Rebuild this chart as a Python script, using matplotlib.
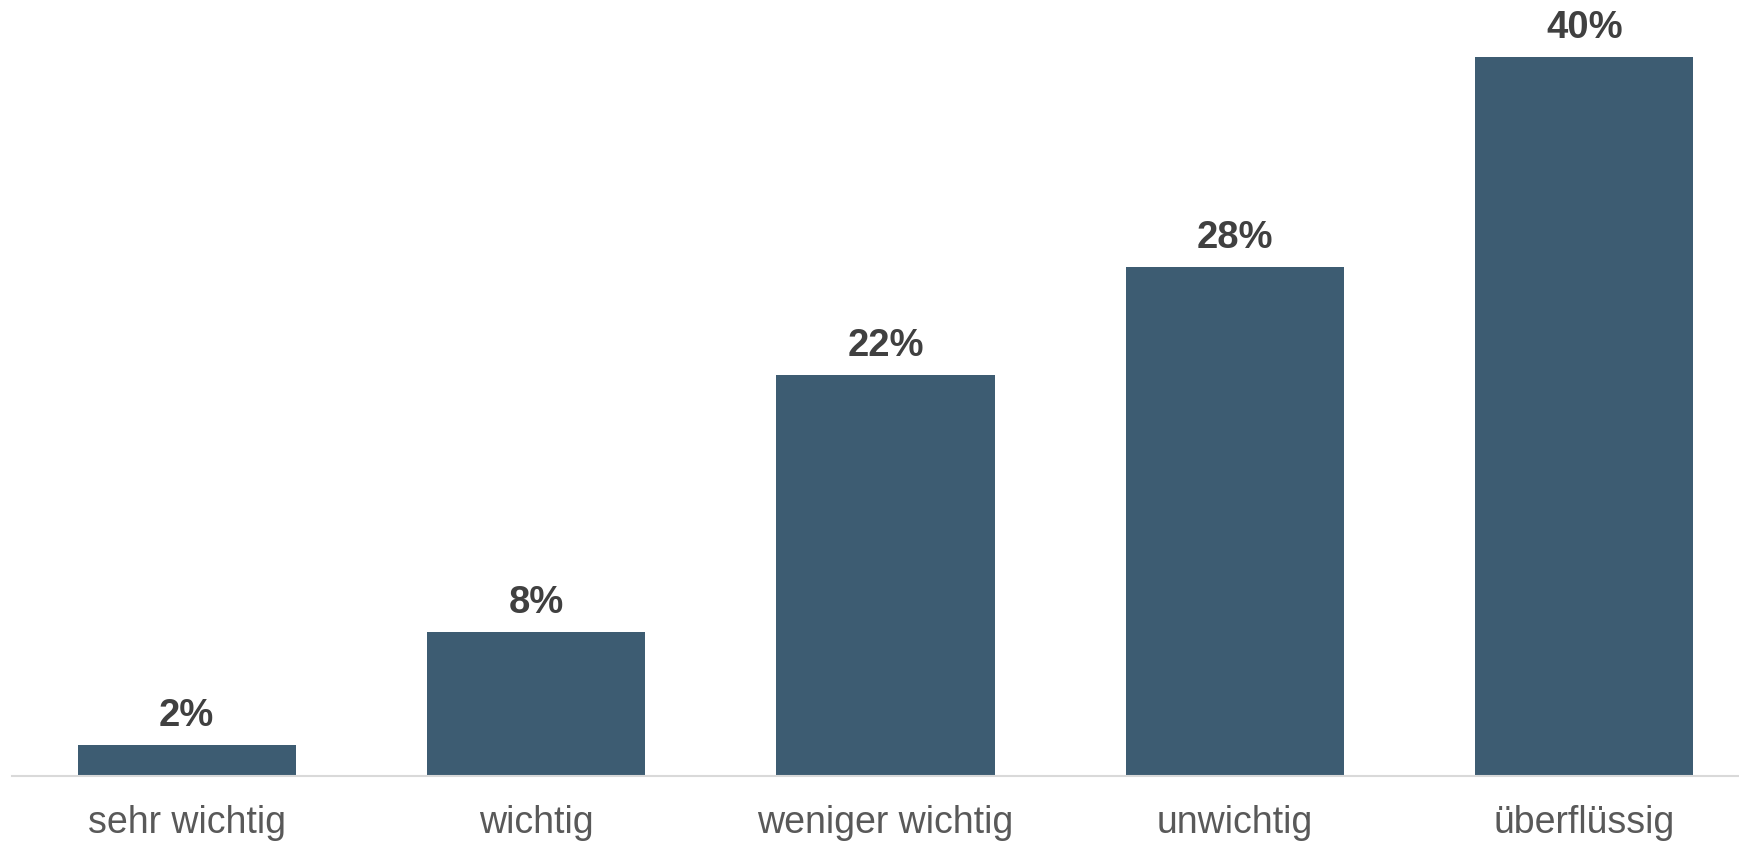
import matplotlib.pyplot as plt

# Werte
categories = ["sehr wichtig", "wichtig", "weniger wichtig", "unwichtig", "überflüssig"]
values = [1.7, 8.0, 22.3, 28.3, 40.0]
labels = ["2%", "8%", "22%", "28%", "40%"]

plt.rcParams["font.family"] = ["Liberation Sans", "DejaVu Sans"]

fig = plt.figure(figsize=(17.4, 8.42), dpi=100)
ax = fig.add_axes([12 / 1740, 66 / 842, 1747 / 1740, 755 / 842])

x = range(len(categories))
bars = ax.bar(x, values, width=0.624, color="#3d5c72")

for b, lab in zip(bars, labels):
    ax.annotate(lab, (b.get_x() + b.get_width() / 2, b.get_height()),
                xytext=(0, 8), textcoords="offset points",
                ha="center", va="bottom", fontsize=27.5, fontweight="bold",
                color="#404040", annotation_clip=False)

ax.set_xlim(-0.5, 4.5)
ax.set_ylim(0, 42)
ax.set_xticks(list(x))
ax.set_xticklabels(categories, fontsize=27, color="#595959")
ax.tick_params(axis="x", length=0, pad=21)
ax.set_yticks([])
for s in ["top", "right", "left"]:
    ax.spines[s].set_visible(False)
ax.spines["bottom"].set_color("#d9d9d9")
ax.spines["bottom"].set_linewidth(1.5)

fig.savefig("out.png", dpi=100)
